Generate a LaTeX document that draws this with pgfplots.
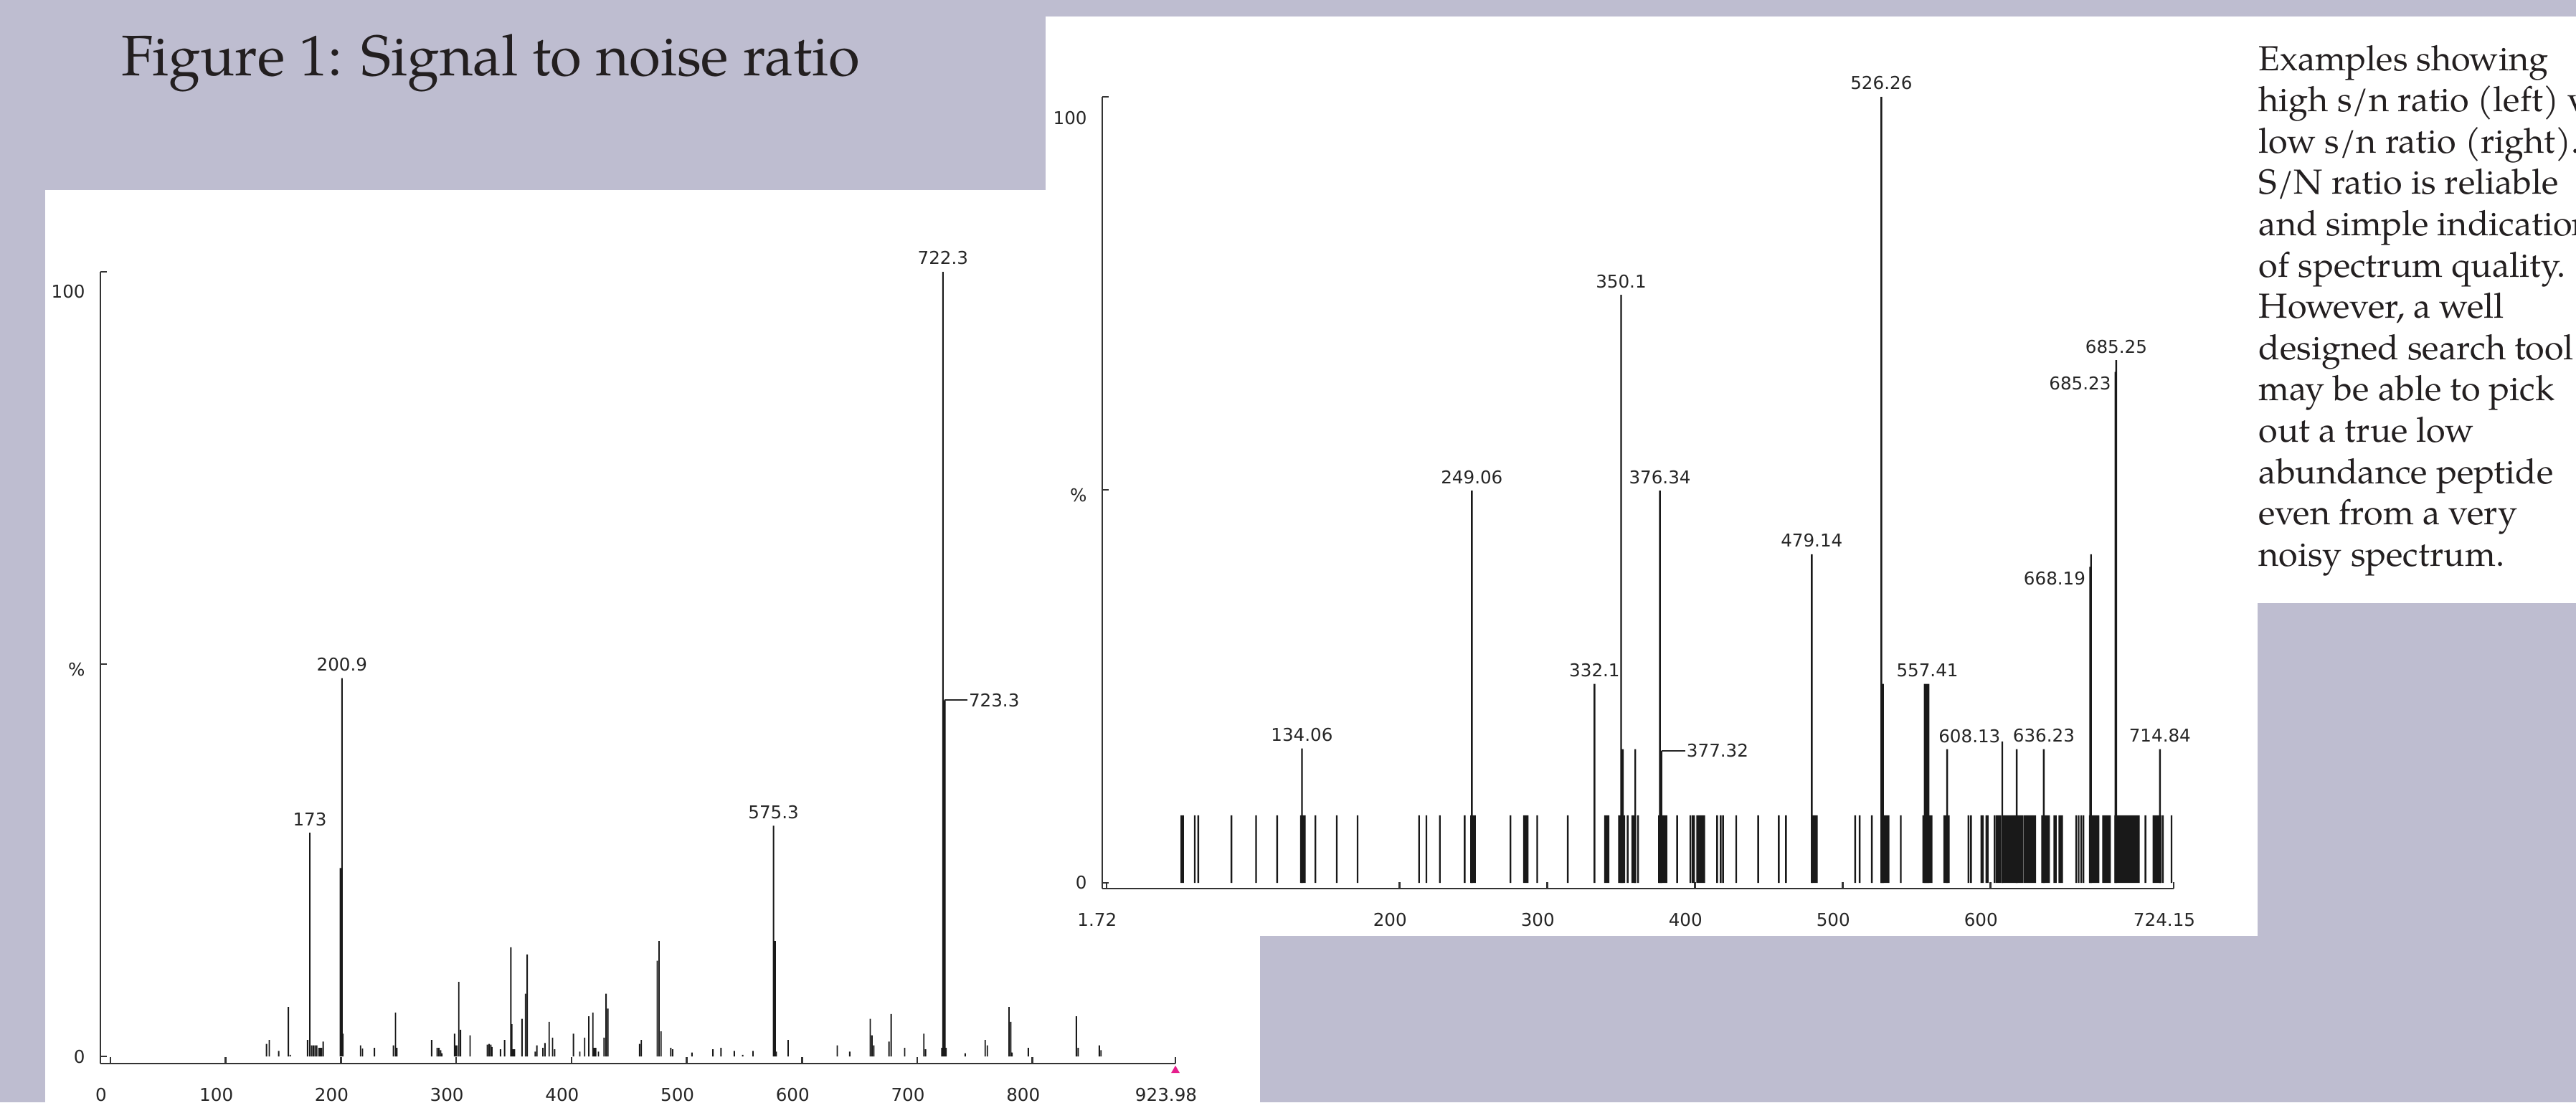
\documentclass[border=0pt]{standalone}
\usepackage{pgfplots}
\pgfplotsset{compat=1.18}
\usepackage{fontspec}
\newfontfamily\pala{TeX Gyre Pagella}
\newfontfamily\dv{DejaVu Sans}
\definecolor{bg}{RGB}{190,189,208}
\definecolor{pk}{RGB}{230,30,140}
\definecolor{ink}{RGB}{35,31,32}

\tikzset{lbl/.style={font=\dv\fontsize{7}{8}\selectfont, inner sep=0pt, text=black!85}}
\pgfplotsset{spec/.style={
  scale only axis,
  axis x line*=bottom, axis y line*=left,
  axis line style={line width=0.75pt, black!80, -},
  every tick/.style={line width=0.75pt, black!80},
  tick align=inside, major tick length=0.9mm,
  ticklabel style={font=\dv\fontsize{7}{8}\selectfont, text=black!85},
  xticklabel style={anchor=base, yshift=-5.2mm, xshift=-1.3mm},
  yticklabel style={xshift=-0.9mm},
  ymax=100,
  ytick={0,50,100}, yticklabels={0,{},{}},
  extra y tick style={major tick length=0pt},
  clip=false,
}}

\begin{document}
\begin{tikzpicture}
\useasboundingbox (0,0) rectangle (359.2mm,-153.7mm);
\clip (0,0) rectangle (359.2mm,-153.7mm);
\fill[bg] (0,0) rectangle (359.2mm,-153.7mm);

\node[anchor=base west, inner sep=0pt, font=\pala\fontsize{22.7}{27}\selectfont, text=ink] at (16.9mm,-10.5mm) {Figure 1: Signal to noise ratio};

% left panel
\fill[white] (6.3mm,-26.5mm) rectangle (175.7mm,-153.7mm);
\begin{axis}[spec, at={(14mm,-148.3mm)}, anchor=south west,
  width=149.9mm, height=110.4mm,
  xmin=-8.71, xmax=923.98, ymin=-0.914,
  xtick={0,100,200,300,400,500,600,700,800,923.98},
  xticklabels={0,100,200,300,400,500,600,700,800,923.98},
  extra y ticks={49.27,97.53}, extra y tick labels={\%,100}]
\addplot[ybar, bar width=0.19mm, bar shift=0pt, fill=black!90, draw=none] coordinates {
(135.4,1.6) (137.8,2.1) (146,0.7) (154.4,6.3) (156,0.2) (171,2.1) (173,28.5)
(174.5,1.4) (176,1.4) (177.5,1.4) (179,1.4) (181,1.1) (182,1.1) (183,1.1) (184.6,1.9)
(199.4,24) (200.1,24) (200.9,48.2) (201.7,2.9) (217,1.4) (218.7,1.0) (229,1.1)
(245.5,1.4) (247.3,5.6) (248.5,1.1) (278.7,2.1) (283.5,1.1) (285,1.1) (286.5,0.8) (287.5,0.4)
(298.6,2.9) (299.5,1.4) (300.5,1.4) (302.2,9.5) (303.7,3.4) (312,2.7)
(327,1.5) (328.5,1.6) (330,1.5) (331,1.2) (338.4,0.9) (342,2.1)
(347.4,13.9) (348.3,4.1) (349.5,0.9) (350.5,0.9) (357.1,4.8) (360.1,8.0) (361.6,13.0)
(368.5,0.6) (370,1.4) (375.2,1.1) (377,1.7) (380.6,4.4) (383.6,2.4) (385.4,0.9)
(401.7,2.9) (407.2,0.6) (411.4,2.4) (415,5.1) (418.6,5.6) (419.8,1.1) (421,1.1) (423.4,0.6)
(428.3,2.4) (430,8.0) (431.6,6.1)
(459.1,1.6) (460.6,2.1) (474.4,12.2) (476,14.7) (477.7,3.2) (486.2,1.1) (487.8,0.9)
(504.5,0.5) (522.7,0.9) (529.7,1.1) (541.2,0.7) (548.5,0.2) (557.5,0.7)
(575.3,29.4) (576.0,14.7) (576.8,14.7) (577.6,0.6) (588,2.1)
(630.6,1.4) (641.4,0.6) (659.2,4.8) (660.7,2.7) (662.2,1.4) (675.5,1.9) (677.3,5.4)
(689.1,1.1) (705.7,2.9) (707.2,0.9)
(721.3,1.1) (722.3,100) (723.3,45.4) (724.1,45.4) (725.0,1.1)
(741.6,0.4) (758.9,2.1) (760.8,1.4) (779.6,6.3) (781.1,4.4) (782.2,0.5) (796.3,1.1)
(838,5.1) (839.6,1.1) (857.9,1.4) (859.4,0.8)
};
\addplot[only marks, mark=triangle*, mark size=0.55mm, color=pk] coordinates {(923.98,-1.8)};
\node[lbl, anchor=south, yshift=0.9mm] at (axis cs:173,28.5) {173};
\node[lbl, anchor=south, yshift=0.9mm] at (axis cs:200.9,48.2) {200.9};
\node[lbl, anchor=south, yshift=0.9mm] at (axis cs:575.3,29.4) {575.3};
\node[lbl, anchor=south, yshift=0.9mm] at (axis cs:722.3,100) {722.3};
\draw[line width=0.6pt, black!85] (axis cs:723.6,45.4) -- (axis cs:743.5,45.4) node[lbl, anchor=west, xshift=0.1mm] {723.3};
\end{axis}

% right panel
\fill[white] (145.8mm,-2.3mm) rectangle (314.8mm,-130.5mm);
\begin{axis}[spec, at={(153.7mm,-123.9mm)}, anchor=south west,
  width=149.4mm, height=110.4mm,
  xmin=-1.11, xmax=724.15, ymin=-0.73,
  xtick={1.72,200,300,400,500,600,724.15},
  xticklabels={1.72,200,300,400,500,600,724.15},
  extra y ticks={49.27,97.35}, extra y tick labels={\%,100}]
% noise floor
\addplot[ybar, bar width=0.24mm, bar shift=0pt, fill=black!90, draw=none] coordinates {
(52.4,8.6) (53.6,8.6) (61.5,8.6) (63.9,8.6) (86.3,8.6) (103.0,8.6) (117.3,8.6)
(133.4,8.6) (134.4,8.6) (135.4,8.6) (136.0,8.6) (143.2,8.6) (157.6,8.6) (171.7,8.6)
(213.3,8.6) (218.3,8.6) (227.4,8.6) (244.2,8.6) (248.6,8.6) (249.6,8.6) (250.6,8.6) (251.2,8.6)
(275.2,8.6) (284.4,8.6) (285.6,8.6) (286.8,8.6) (293.3,8.6) (314.0,8.6)
(339.2,8.6) (340.2,8.6) (341.2,8.6) (341.6,8.6)
(348.7,8.6) (349.7,8.6) (350.7,8.6) (351.7,8.6) (352.2,8.6) (354.5,8.6)
(357.6,8.6) (358.6,8.6) (359.6,8.6) (361.6,8.6)
(375.8,8.6) (376.8,8.6) (377.8,8.6) (378.8,8.6) (379.8,8.6) (380.8,8.6) (388.0,8.6)
(397.0,8.6) (398.6,8.6) (399.4,8.6) (401.6,8.6) (402.6,8.6) (403.6,8.6) (404.6,8.6) (405.6,8.6) (406.4,8.6)
(415.1,8.6) (417.5,8.6) (419.1,8.6) (428.0,8.6) (442.9,8.6) (456.8,8.6) (461.7,8.6)
(479.8,8.6) (480.8,8.6) (481.8,8.6) (482.6,8.6)
(508.5,8.6) (511.6,8.6) (519.8,8.6)
(526.4,8.6) (527.4,8.6) (528.4,8.6) (529.4,8.6) (530.4,8.6) (531.1,8.6) (539.4,8.6)
(554.6,8.6) (555.6,8.6) (556.6,8.6) (557.6,8.6) (558.6,8.6) (559.6,8.6) (560.3,8.6)
(568.8,8.6) (569.8,8.6) (570.8,8.6) (571.9,8.6) (585.2,8.6) (586.9,8.6)
(594.0,8.6) (595.0,8.6) (597.4,8.6) (598.2,8.6)
(602.9,8.6) (604.3,8.6) (605.6,8.6) (606.8,8.6) (608.1,8.6) (609.4,8.6) (610.3,8.6) (611.6,8.6)
(612.6,8.6) (613.8,8.6) (614.9,8.6) (616.2,8.6) (617.2,8.6) (618.2,8.6) (619.4,8.6) (620.6,8.6)
(621.6,8.6) (622.9,8.6) (624.0,8.6) (625.2,8.6) (626.4,8.6) (627.4,8.6) (628.6,8.6) (629.7,8.6) (630.4,8.6)
(635.1,8.6) (636.1,8.6) (637.1,8.6) (638.1,8.6) (639.1,8.6) (639.8,8.6)
(643.4,8.6) (644.4,8.6) (646.8,8.6) (647.8,8.6) (648.6,8.6)
(658.2,8.6) (659.8,8.6) (661.5,8.6) (663.0,8.6)
(667.4,8.6) (668.4,8.6) (669.4,8.6) (670.4,8.6) (671.4,8.6) (672.4,8.6) (673.2,8.6)
(676.3,8.6) (677.3,8.6) (678.3,8.6) (679.3,8.6) (680.3,8.6) (681.0,8.6)
(684.6,8.6) (685.4,8.6) (686.2,8.6) (687.0,8.6) (687.8,8.6) (688.6,8.6) (689.4,8.6) (690.2,8.6)
(691.0,8.6) (691.8,8.6) (692.6,8.6) (693.4,8.6) (694.2,8.6) (695.0,8.6) (695.8,8.6) (696.6,8.6)
(697.4,8.6) (698.2,8.6) (699.0,8.6) (699.8,8.6) (700.6,8.6) (705.0,8.6)
(710.5,8.6) (711.5,8.6) (712.5,8.6) (713.5,8.6) (714.5,8.6) (715.2,8.6) (716.8,8.6) (722.7,8.6)
};
% signal peaks
\addplot[ybar, bar width=0.24mm, bar shift=0pt, fill=black!90, draw=none] coordinates {
(134.06,17.1) (249.06,49.9) (332.1,25.3) (350.1,74.8) (351.3,17.0) (359.7,17.0)
(376.34,49.9) (377.32,16.8) (479.14,41.8) (526.26,100) (527.4,25.3)
(555.6,25.3) (556.6,25.3) (557.41,25.3) (558.2,25.3) (570.8,17.0) (608.13,18.0)
(617.9,17.0) (636.23,17.0) (667.6,40.2) (668.19,41.8) (684.7,65.0) (685.25,66.5) (714.84,17.0)
};
\node[lbl, anchor=south, yshift=0.9mm] at (axis cs:134.06,17.1) {134.06};
\node[lbl, anchor=south, yshift=0.9mm] at (axis cs:249.06,49.9) {249.06};
\node[lbl, anchor=south, yshift=0.9mm] at (axis cs:332.1,25.3) {332.1};
\node[lbl, anchor=south, yshift=0.9mm] at (axis cs:350.1,74.8) {350.1};
\node[lbl, anchor=south, yshift=0.9mm] at (axis cs:376.34,49.9) {376.34};
\node[lbl, anchor=south, yshift=0.9mm] at (axis cs:479.14,41.8) {479.14};
\node[lbl, anchor=south, yshift=0.9mm] at (axis cs:526.26,100) {526.26};
\node[lbl, anchor=south, yshift=0.9mm] at (axis cs:557.41,25.3) {557.41};
\node[lbl, anchor=south, yshift=0.9mm] at (axis cs:636.23,17.0) {636.23};
\node[lbl, anchor=south, yshift=0.9mm] at (axis cs:685.25,66.5) {685.25};
\node[lbl, anchor=south, yshift=0.9mm] at (axis cs:714.84,17.0) {714.84};
\node[lbl, anchor=base east] at (axis cs:607.2,17.8) {608.13};
\node[lbl, anchor=base east] at (axis cs:664.8,37.9) {668.19};
\node[lbl, anchor=base east] at (axis cs:682.0,62.7) {685.23};
\draw[line width=0.6pt, black!85] (axis cs:377.6,16.8) -- (axis cs:393.5,16.8) node[lbl, anchor=west, xshift=0.1mm] {377.32};
\end{axis}

% text box
\fill[white] (314.8mm,-2.3mm) rectangle (359.2mm,-84.1mm);
\foreach \t [count=\i from 0] in {Examples showing, high s/n ratio (left) vs, low s/n ratio (right)., S/N ratio is reliable, and simple indication, of spectrum quality., {However, a well}, designed search tool, may be able to pick, out a true low, abundance peptide, even from a very, noisy spectrum.}
  \node[anchor=base west, inner sep=0pt, font=\pala\fontsize{13.8}{16}\selectfont, text=ink] at (314.9mm,{-9.8mm-\i*5.76mm}) {\t};
\end{tikzpicture}
\end{document}
